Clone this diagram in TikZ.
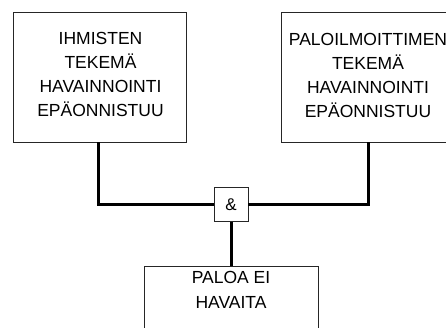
\documentclass[tikz,border=0pt]{standalone}
\usepackage{fontspec}
\setmainfont{Liberation Sans}
\begin{document}
\begin{tikzpicture}[x=1pt,y=-1pt,
  box/.style={draw=black!85, line width=0.9pt, rectangle, inner sep=0pt},
  txt/.style={inner sep=0pt, align=center, anchor=north, font={\fontsize{17.5}{24}\selectfont}},
  conn/.style={line width=3pt, black}]
\useasboundingbox (0,0) rectangle (446,327);
\node[box, minimum width=173pt, minimum height=130pt] (L) at (99.5,77) {};
\node[box, minimum width=173pt, minimum height=130pt] (R) at (368,77) {};
\node[box, minimum width=34pt, minimum height=34pt, font={\fontsize{17}{20}\selectfont}] (and) at (231,204.5) {\&};
\node[box, minimum width=174pt, minimum height=80pt] (B) at (231,306) {};
\node[txt] (Lt) at (100.5,32.5) {IHMISTEN\\TEKEMÄ\\HAVAINNOINTI\\EPÄONNISTUU};
\node[txt] (Rt) at (368,33) {PALOILMOITTIMEN\\TEKEMÄ\\HAVAINNOINTI\\EPÄONNISTUU};
\node[txt, font={\fontsize{17.5}{25}\selectfont}] (Bt) at (231,270.8) {PALOA EI\\HAVAITA};
\draw[conn] ([xshift=-1.2pt]L.south) |- (and.west);
\draw[conn] (R.south) |- (and.east);
\draw[conn] (and.south) -- (B.north);
\end{tikzpicture}
\end{document}
